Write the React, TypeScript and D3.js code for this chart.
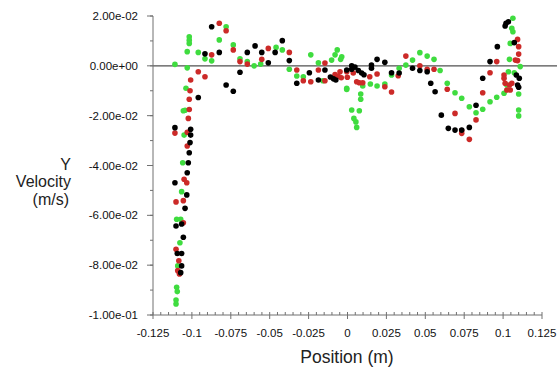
import * as d3 from "d3";

// position (m), y velocity (m/s), one list per run
const blackPts: [number, number][] = [
  [-0.1109, -0.0248], [-0.1008, -0.0255], [-0.1008, -0.0278], [-0.1012, -0.0308], [-0.1017, -0.0349],
  [-0.1023, -0.0389], [-0.103, -0.0429], [-0.1109, -0.0469], [-0.1033, -0.0518], [-0.1044, -0.0572],
  [-0.1066, -0.0635], [-0.1102, -0.0643], [-0.1055, -0.0688], [-0.1094, -0.0753], [-0.1066, -0.0753],
  [-0.1066, -0.0803], [-0.1072, -0.083], [-0.0959, -0.0127], [-0.0873, 0.0157], [-0.0916, 0.0048],
  [-0.0824, 0.0054], [-0.078, -0.0077], [-0.0734, -0.0102], [-0.0691, -0.0026], [-0.0644, 0.0054],
  [-0.0594, 0.008], [-0.0551, 0.0054], [-0.0465, 0.0054], [-0.0419, 0.0101], [-0.0374, 0.0021],
  [-0.0509, 0.0012], [-0.0326, -0.007], [-0.0245, -0.0028], [-0.0187, -0.0057], [-0.0145, -0.0017],
  [-0.011, -0.0045], [-0.009, -0.0052], [-0.0075, -0.0057], [-0.0005, -0.0017], [0.0027, 0.0],
  [0.0027, -0.0014], [0.0048, -0.0005], [0.007, -0.0019], [0.0091, -0.0029], [0.0106, -0.0036],
  [0.0154, 0.0003], [0.0154, -0.001], [0.019, 0.0026], [0.024, 0.0014], [0.0283, -0.0028],
  [0.0332, -0.0029], [0.0418, -0.001], [0.0465, -0.0019], [0.0512, -0.0024], [0.0535, -0.007],
  [0.0563, -0.0104], [0.0603, -0.0198], [0.0648, -0.0251], [0.0691, -0.0258], [0.0734, -0.0258],
  [0.0783, -0.0247], [0.0826, -0.0158], [0.0869, -0.005], [0.0916, 0.0017], [0.0963, 0.0077],
  [0.1013, 0.016], [0.1019, 0.0171], [0.1034, 0.0177], [0.1072, 0.0093], [0.1085, -0.0037],
  [0.1104, -0.005], [0.1093, -0.0077], [0.11, -0.0086],
];

const redPts: [number, number][] = [
  [-0.0824, 0.0171], [-0.078, 0.0141], [-0.0873, 0.0044], [-0.0734, 0.0064], [-0.0691, 0.0017],
  [-0.0644, 0.0007], [-0.0959, -0.0024], [-0.0916, -0.0044], [-0.1008, -0.0057], [-0.1012, -0.01],
  [-0.1017, -0.0134], [-0.1017, -0.0175], [-0.1023, -0.0211], [-0.1109, -0.027], [-0.103, -0.0267],
  [-0.103, -0.0322], [-0.105, -0.0455], [-0.1033, -0.0469], [-0.1102, -0.0546], [-0.1055, -0.0541],
  [-0.1055, -0.063], [-0.1102, -0.0736], [-0.1084, -0.0782], [-0.1091, -0.0822], [-0.108, -0.0835],
  [-0.0509, 0.007], [-0.0551, 0.0026], [-0.0374, 0.0054], [-0.0326, -0.0017], [-0.0284, -0.006],
  [-0.0236, -0.0064], [-0.0187, -0.0017], [-0.0145, 0.0011], [-0.0145, -0.006], [-0.008, -0.0035],
  [-0.006, -0.0042], [-0.0048, -0.0024], [-0.004, -0.0048], [-0.0005, -0.0024], [-0.0001, -0.0046],
  [0.0037, -0.0029], [0.0059, -0.0064], [0.0076, -0.0068], [0.0098, -0.0068], [0.0143, -0.0044],
  [0.019, -0.0033], [0.024, -0.0084], [0.0283, -0.0105], [0.0326, -0.004], [0.0375, 0.0039],
  [0.0465, 0.0], [0.0512, -0.0014], [0.0556, -0.0014], [0.0641, -0.0094], [0.0691, -0.0191],
  [0.0734, -0.026], [0.0734, -0.0271], [0.0783, -0.0295], [0.0826, -0.0217], [0.0869, -0.0108],
  [0.0916, -0.0028], [0.0959, 0.0017], [0.1006, -0.0037], [0.1006, -0.005], [0.1013, -0.007],
  [0.1024, -0.0097], [0.1041, -0.0077], [0.1046, -0.0097], [0.1056, -0.007], [0.1093, 0.0106],
  [0.11, 0.0077], [0.11, 0.0047], [0.1079, 0.0023], [0.1093, 0.0021],
];

const greenPts: [number, number][] = [
  [-0.1109, 0.0006], [-0.103, -0.0008], [-0.1017, 0.0117], [-0.1017, 0.0103], [-0.1017, 0.009],
  [-0.103, 0.0057], [-0.0959, 0.0054], [-0.0916, 0.0028], [-0.0873, 0.002], [-0.0824, 0.0104],
  [-0.078, 0.0157], [-0.0734, 0.0084], [-0.0691, 0.0028], [-0.0644, 0.0017], [-0.06, 0.0],
  [-0.1038, -0.009], [-0.1044, -0.0178], [-0.1055, -0.018], [-0.105, -0.0278], [-0.1059, -0.0389],
  [-0.1066, -0.0505], [-0.1098, -0.0616], [-0.1072, -0.0616], [-0.1077, -0.071], [-0.1091, -0.0803],
  [-0.1098, -0.0889], [-0.1094, -0.0906], [-0.1102, -0.094], [-0.1102, -0.0956],
  [-0.0558, 0.0007], [-0.0459, 0.0074], [-0.0419, 0.0064], [-0.0374, -0.0014], [-0.0326, -0.0041],
  [-0.0284, -0.0044], [-0.0236, 0.0044], [-0.0187, 0.0012], [-0.0158, -0.006], [-0.0102, 0.0023],
  [-0.0066, 0.0064], [-0.008, 0.0044], [-0.0037, 0.0036], [-0.0044, 0.0026], [-0.0005, -0.009],
  [-0.0005, -0.0095], [0.0027, -0.0177], [0.0076, -0.018], [0.0041, -0.0211], [0.0054, -0.0225],
  [0.0059, -0.0247], [0.0085, -0.0113], [0.0085, -0.0134], [0.0098, -0.0081], [0.0147, -0.0073],
  [0.019, -0.0081], [0.024, -0.0073], [0.0283, -0.0037], [0.0332, -0.001], [0.0375, 0.0003],
  [0.0418, 0.0023], [0.0465, 0.0053], [0.0512, 0.0039], [0.0556, 0.0026], [0.0595, -0.0019],
  [0.0641, -0.007], [0.0691, -0.0108], [0.0734, -0.013], [0.0783, -0.0164], [0.0826, -0.0188],
  [0.0869, -0.0174], [0.0916, -0.0144], [0.0959, -0.0126], [0.1006, -0.011], [0.1024, -0.0077],
  [0.1034, -0.0024], [0.1041, 0.0026], [0.1046, 0.009], [0.1063, 0.0137], [0.1056, 0.0151],
  [0.1063, 0.0191], [0.1072, -0.0028], [0.11, -0.0113], [0.11, -0.0177], [0.11, -0.0201],
  [0.111, -0.0003],
];

const xTicks = [-0.125, -0.1, -0.075, -0.05, -0.025, 0, 0.025, 0.05, 0.075, 0.1, 0.125];
const xTickLabels = ["-0.125", "-0.1", "-0.075", "-0.05", "-0.025", "0", "0.025", "0.05", "0.075", "0.1", "0.125"];
const yTicks = [0.02, 0, -0.02, -0.04, -0.06, -0.08, -0.1];
const yTickLabels = ["2.00e-02", "0.00e+00", "-2.00e-02", "-4.00e-02", "-6.00e-02", "-8.00e-02", "-1.00e-01"];

const series = [
  { pts: greenPts, color: "#3fdc3f" },
  { pts: redPts, color: "#cc2a28" },
  { pts: blackPts, color: "#000000" },
];

export default function App() {
  const W = 557, H = 369;
  const x = d3.scaleLinear().domain([-0.125, 0.125]).range([153, 542]);
  const y = d3.scaleLinear().domain([-0.1, 0.02]).range([315, 16]);
  const axisColor = "#707070";
  const font = "'Liberation Sans', Arial, sans-serif";

  const xMinor = d3.range(-125, 126, 5).map(v => v / 1000);
  const yMinor = d3.range(-10, 3, 1).map(v => v / 100);

  return (
    <svg width={W} height={H} style={{ position: "absolute", left: 0, top: 0, background: "#fff" }}>
      {/* zero line */}
      <line x1={x(-0.125)} x2={W} y1={y(0)} y2={y(0)} stroke="#505050" strokeWidth={1.3} />

      {/* y axis */}
      <line x1={x(-0.125)} x2={x(-0.125)} y1={y(0.02)} y2={y(-0.1)} stroke={axisColor} strokeWidth={1} />
      {yMinor.map((v, i) => (
        <line key={"ym" + i} x1={x(-0.125) - 3} x2={x(-0.125)} y1={y(v)} y2={y(v)} stroke={axisColor} />
      ))}
      {yTicks.map((v, i) => (
        <g key={"yt" + i}>
          <line x1={x(-0.125) - 6} x2={x(-0.125)} y1={y(v)} y2={y(v)} stroke={axisColor} />
          <text x={138} y={y(v) + 4} textAnchor="end" fontSize={11.5} fontFamily={font} fill="#111">
            {yTickLabels[i]}
          </text>
        </g>
      ))}

      {/* x axis */}
      <line x1={x(-0.125)} x2={x(0.125)} y1={y(-0.1)} y2={y(-0.1)} stroke={axisColor} strokeWidth={1} />
      {xMinor.map((v, i) => (
        <line key={"xm" + i} x1={x(v)} x2={x(v)} y1={y(-0.1)} y2={y(-0.1) - 3} stroke={axisColor} />
      ))}
      {xTicks.map((v, i) => (
        <g key={"xt" + i}>
          <line x1={x(v)} x2={x(v)} y1={y(-0.1)} y2={y(-0.1) + 4} stroke={axisColor} />
          <text x={x(v)} y={337} textAnchor="middle" fontSize={11.5} fontFamily={font} fill="#111">
            {xTickLabels[i]}
          </text>
        </g>
      ))}

      {/* points */}
      {series.map((s, si) => (
        <g key={"s" + si}>
          {s.pts.map((p, i) => (
            <circle key={i} cx={x(p[0])} cy={y(p[1])} r={2.8} fill={s.color} />
          ))}
        </g>
      ))}

      {/* titles */}
      <text x={347} y={363} textAnchor="middle" fontSize={17.5} fontFamily={font} fill="#222">Position (m)</text>
      <text x={71} y={170} textAnchor="end" fontSize={16} fontFamily={font} fill="#222">Y</text>
      <text x={71} y={187} textAnchor="end" fontSize={16} fontFamily={font} fill="#222">Velocity</text>
      <text x={69} y={205} textAnchor="end" fontSize={16} fontFamily={font} fill="#222">(m/s)</text>
    </svg>
  );
}
